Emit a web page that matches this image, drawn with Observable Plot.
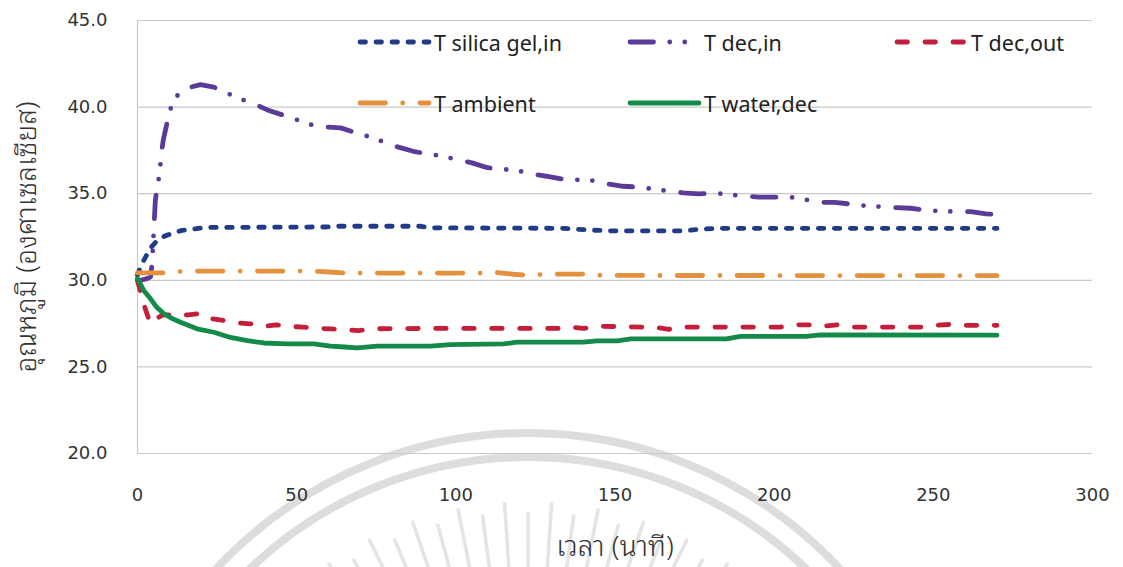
<!DOCTYPE html>
<html>
<head>
<meta charset="utf-8">
<script src="https://cdn.jsdelivr.net/npm/d3@7"></script>
<script src="https://cdn.jsdelivr.net/npm/@observablehq/plot@0.6"></script>
<style>
  html, body { margin: 0; padding: 0; background: #fff; overflow: hidden; }
  #wrap { position: relative; width: 1123px; height: 567px; }
  #wm { position: absolute; left: 0; top: 0; }
  #chart { position: absolute; left: 0; top: 0; }
  #legend { position: absolute; left: 0; top: 0; width: 1123px; height: 140px; pointer-events: none; }
  .item { position: absolute; display: flex; align-items: center; font-family: "Noto Sans", sans-serif; font-size: 21.5px; color: #222; white-space: nowrap; }
  .item svg { margin-right: 2px; }
</style>
</head>
<body>
<div id="wrap">
  <svg id="wm" width="1123" height="567"></svg>
  <div id="chart"></div>
  <div id="legend"></div>
</div>
<script>
// ---- data (minutes, °C) ----
const seriesNames = ["T silica gel,in", "T dec,in", "T dec,out", "T ambient", "T water,dec"];

const silicaGelIn = [[0,30.3],[1,30.8],[2.5,31.33],[4,31.85],[6.2,32.3],[8.5,32.55],[11.4,32.74],[14,32.88],[17.7,32.97],[22,33.05],[60,33.08],[62,33.12],[89,33.12],[92,33.03],[134,33.0],[142,32.9],[150,32.85],[171,32.85],[177,32.95],[182,33.0],[270,33.0]];

const decIn = [[0,30.0],[1,30.0],[3,30.1],[4.1,30.2],[4.6,31.0],[5.1,32.8],[5.6,34.6],[6.2,35.4],[7.0,36.2],[7.4,37.2],[8.1,38.1],[10,39.7],[11.7,40.55],[15.6,41.1],[19.8,41.3],[24,41.15],[28.2,40.8],[32.7,40.45],[37.1,40.15],[41.3,39.8],[45.5,39.55],[49.6,39.3],[54.1,39.0],[58.7,38.85],[63.8,38.8],[68,38.55],[72.6,38.3],[77.2,38.0],[81.7,37.7],[86.6,37.45],[91,37.3],[95.7,37.17],[100.4,36.97],[105.1,36.78],[109.9,36.5],[114.5,36.42],[119.2,36.34],[123.8,36.15],[128.8,36.0],[133.7,35.84],[138,35.8],[142.8,35.76],[147.5,35.57],[152.6,35.43],[157.5,35.38],[162,35.27],[166.9,35.15],[171.4,35.05],[176.3,34.99],[181.3,35.03],[186,34.95],[190.4,34.86],[195.2,34.8],[200.2,34.8],[205.2,34.8],[210,34.65],[214.3,34.5],[219,34.5],[224,34.4],[228.7,34.3],[233.4,34.25],[238.1,34.2],[242.9,34.16],[247.7,34.05],[252.5,33.99],[257,33.97],[261.7,33.96],[266.6,33.84],[270,33.8]];

const decOut = [[0,30.0],[2,28.6],[4,27.5],[6,27.8],[8,28.0],[12,28.0],[16,28.0],[20.3,28.1],[22,27.9],[23.5,27.78],[27,27.68],[31.7,27.54],[35.5,27.49],[39.6,27.33],[43.4,27.43],[48,27.33],[52,27.3],[56.4,27.23],[60.6,27.2],[64.7,27.14],[69.4,27.1],[75,27.2],[90,27.22],[110,27.22],[134,27.22],[136,27.3],[140,27.22],[145,27.35],[158,27.3],[163,27.27],[167,27.17],[170,27.3],[202,27.3],[207,27.43],[211,27.43],[215.5,27.35],[220,27.43],[224,27.3],[247,27.3],[251,27.4],[255,27.45],[260,27.4],[270,27.4]];

const ambient = [[0,30.43],[8,30.43],[12,30.5],[20,30.53],[55,30.53],[60,30.48],[65,30.42],[110,30.42],[113,30.45],[118,30.35],[122,30.3],[130,30.36],[141,30.36],[146,30.28],[270,30.27]];

const waterDec = [[0,30.1],[2,29.4],[4.1,28.93],[6,28.45],[8.3,28.07],[10.8,27.8],[13.5,27.58],[18.7,27.2],[24,27.0],[29.2,26.7],[34.5,26.52],[39.7,26.38],[47,26.33],[55.4,26.33],[60.6,26.2],[65,26.15],[69,26.1],[75.3,26.2],[92,26.2],[98.3,26.29],[115,26.33],[119.3,26.43],[140,26.43],[144.4,26.5],[150.7,26.5],[155,26.62],[185,26.62],[189.4,26.76],[210,26.76],[214.6,26.85],[270,26.83]];

const xTicks = [0, 50, 100, 150, 200, 250, 300];
const yTicks = [20, 25, 30, 35, 40, 45];
const xLabel = "เวลา (นาที)";
const yLabel = "อุณหภูมิ (องศาเซลเซียส)";

// ---- styles ----
const W = 4.8;
const styles = [
  {data: silicaGelIn, color: "#1f3c88", dash: "5.5 10.5"},
  {data: decIn,       color: "#5b3a98", dash: "23.5 16.25 0 15 0 17.25"},
  {data: decOut,      color: "#c41e3a", dash: "10.5 17.5"},
  {data: ambient,     color: "#e3913f", dash: "25.5 17.25 0 17.25"},
  {data: waterDec,    color: "#138a48", dash: null}
];

const lineMarks = styles.map(s => Plot.line(s.data, {
  x: d => d[0], y: d => d[1],
  stroke: s.color, strokeWidth: W,
  strokeDasharray: s.dash || undefined,
  strokeLinecap: "round", strokeLinejoin: "round"
}));

const tickFont = "'DejaVu Sans', sans-serif";
const thaiFont = "'Noto Sans Thai Looped', Loma, Garuda, 'Tlwg Typo', Kinnari, 'Noto Sans Thai', 'Noto Sans', sans-serif";

const chart = Plot.plot({
  width: 1123, height: 567,
  marginLeft: 137, marginRight: 31, marginTop: 20, marginBottom: 114,
  style: {background: "transparent", fontFamily: tickFont, color: "#333"},
  x: {domain: [0, 300]},
  y: {domain: [20, 45]},
  marks: [
    Plot.gridY(yTicks, {stroke: "#c9c9c9", strokeOpacity: 1, strokeWidth: 1.2}),
    Plot.ruleX([0], {stroke: "#c9c9c9", strokeWidth: 1.2}),
    ...lineMarks,
    Plot.axisX(xTicks, {tickSize: 0, tickPadding: 35, fontSize: 18, fill: "#333", label: null}),
    Plot.axisY(yTicks, {tickSize: 0, tickPadding: 30, fontSize: 18, fill: "#333",
      tickFormat: d => d.toFixed(1), label: null}),
    Plot.axisX([], {label: xLabel, labelAnchor: "center", labelOffset: 102, labelArrow: "none",
      fontSize: 28, fill: "#333", fontFamily: thaiFont, fontWeight: 300, tickSize: 0}),
    Plot.axisY([], {label: yLabel, labelAnchor: "center", labelOffset: 121, labelArrow: "none",
      fontSize: 28, fill: "#333", fontFamily: thaiFont, fontWeight: 300, tickSize: 0})
  ]
});
document.getElementById("chart").appendChild(chart);

// ---- legend (inside plot area, 3 columns x 2 rows) ----
const legendPos = [
  {left: 356, top: 42}, {left: 626, top: 42}, {left: 893, top: 42},
  {left: 356, top: 103}, {left: 626, top: 103}
];
const legend = document.getElementById("legend");
const ns = "http://www.w3.org/2000/svg";
seriesNames.forEach((name, i) => {
  const s = styles[i];
  const div = document.createElement("div");
  div.className = "item";
  div.style.left = legendPos[i].left + "px";
  div.style.top = (legendPos[i].top - 14) + "px";
  div.style.height = "28px";
  const svg = document.createElementNS(ns, "svg");
  svg.setAttribute("width", 76); svg.setAttribute("height", 10);
  const ln = document.createElementNS(ns, "line");
  ln.setAttribute("x1", 4); ln.setAttribute("x2", 73); ln.setAttribute("y1", 5); ln.setAttribute("y2", 5);
  ln.setAttribute("stroke", s.color); ln.setAttribute("stroke-width", W);
  ln.setAttribute("stroke-linecap", "round");
  if (s.dash) ln.setAttribute("stroke-dasharray", s.dash);
  svg.appendChild(ln);
  div.appendChild(svg);
  const span = document.createElement("span");
  span.textContent = name;
  div.appendChild(span);
  legend.appendChild(div);
});

// ---- faint watermark seal behind the chart (decorative) ----
const wm = d3.select("#wm");
const cx = 528, cy = 859;
[426, 402].forEach(r => wm.append("circle").attr("cx", cx).attr("cy", cy).attr("r", r)
  .attr("fill", "none").attr("stroke", "#dddddd").attr("stroke-width", 8));
d3.range(-34, 34.1, 3.78).forEach((a, k) => {
  const rad = a * Math.PI / 180;
  const r1 = 260, r2 = (k % 2 === 0) ? 356 : 346;
  wm.append("line")
    .attr("x1", cx + r1 * Math.sin(rad)).attr("y1", cy - r1 * Math.cos(rad))
    .attr("x2", cx + r2 * Math.sin(rad)).attr("y2", cy - r2 * Math.cos(rad))
    .attr("stroke", "#e4e4e4").attr("stroke-width", 3.5).attr("stroke-linecap", "round");
});
</script>
</body>
</html>
